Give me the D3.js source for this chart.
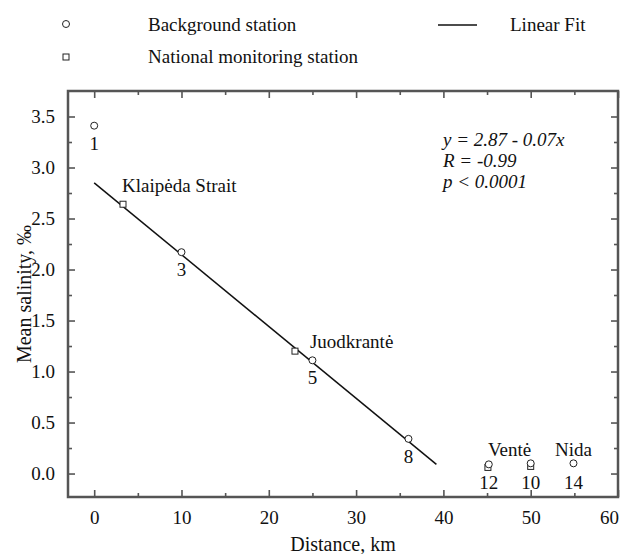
<!DOCTYPE html>
<html>
<head>
<meta charset="utf-8">
<script src="https://cdn.jsdelivr.net/npm/d3@7"></script>
<style>
  body { margin: 0; background: #fff; }
  svg text { font-family: "Liberation Serif", "Times New Roman", serif; fill: #111; }
</style>
</head>
<body>
<svg id="chart" width="625" height="554" font-family="Liberation Serif"></svg>
<script>
// background stations (circles)
const bgDist = [0, 10, 25, 36, 45.2, 50, 54.9];
const bgSal = [3.41, 2.17, 1.11, 0.34, 0.09, 0.10, 0.10];
const bgLabels = ["1", "3", "5", "8", "12", "10", "14"];

// national monitoring stations (squares)
const natDist = [3.3, 23, 45.1, 50];
const natSal = [2.64, 1.20, 0.06, 0.07];
const natLabels = ["Klaipėda Strait", "Juodkrantė", "Ventė", ""];

// linear fit endpoints
const fitDist = [0, 39.2];
const fitSal = [2.85, 0.09];

const xTicks = [0, 10, 20, 30, 40, 50, 60];
const yTicks = [0, 0.5, 1, 1.5, 2, 2.5, 3, 3.5];
const statsText = ["y = 2.87 - 0.07x", "R = -0.99", "p < 0.0001"];

const margin = { top: 91, right: 7, bottom: 57, left: 68 };
const width = 625, height = 554;
const svg = d3.select("#chart");

const x = d3.scaleLinear().domain([-3, 60]).range([margin.left, width - margin.right]);
const y = d3.scaleLinear().domain([-0.23, 3.75]).range([height - margin.bottom, margin.top]);

const frameColor = "#555";
const fs = 19;
const bottomY = height - margin.bottom;
const rightX = width - margin.right;

// plot frame
svg.append("rect")
  .attr("x", margin.left).attr("y", margin.top)
  .attr("width", rightX - margin.left).attr("height", bottomY - margin.top)
  .attr("fill", "none").attr("stroke", frameColor).attr("stroke-width", 2.5);

// axes, ticks inward on all sides
function styleAxis(g) {
  g.attr("font-family", "Liberation Serif");
  g.select(".domain").remove();
  g.selectAll(".tick line").attr("stroke", frameColor).attr("stroke-width", 1.6);
  g.selectAll("text").attr("font-size", fs).attr("fill", "#111");
}
const xMinor = [5, 15, 25, 35, 45, 55];
const yMinor = [0.25, 0.75, 1.25, 1.75, 2.25, 2.75, 3.25];

svg.append("g").attr("transform", `translate(0,${bottomY})`)
  .call(d3.axisBottom(x).tickValues(xTicks).tickSize(-7).tickPadding(14).tickFormat(d3.format("d")))
  .call(styleAxis)
  .call(g => g.selectAll("text").filter(d => d === 60).attr("dx", -9));
svg.append("g").attr("transform", `translate(0,${bottomY})`)
  .call(d3.axisBottom(x).tickValues(xMinor).tickSize(-4).tickFormat(""))
  .call(styleAxis);
svg.append("g").attr("transform", `translate(0,${margin.top})`)
  .call(d3.axisTop(x).tickValues(xTicks).tickSize(-7).tickFormat(""))
  .call(styleAxis);
svg.append("g").attr("transform", `translate(0,${margin.top})`)
  .call(d3.axisTop(x).tickValues(xMinor).tickSize(-4).tickFormat(""))
  .call(styleAxis);

svg.append("g").attr("transform", `translate(${margin.left},0)`)
  .call(d3.axisLeft(y).tickValues(yTicks).tickSize(-7).tickPadding(13).tickFormat(d3.format(".1f")))
  .call(styleAxis);
svg.append("g").attr("transform", `translate(${margin.left},0)`)
  .call(d3.axisLeft(y).tickValues(yMinor).tickSize(-4).tickFormat(""))
  .call(styleAxis);
svg.append("g").attr("transform", `translate(${rightX},0)`)
  .call(d3.axisRight(y).tickValues(yTicks).tickSize(-7).tickFormat(""))
  .call(styleAxis);
svg.append("g").attr("transform", `translate(${rightX},0)`)
  .call(d3.axisRight(y).tickValues(yMinor).tickSize(-4).tickFormat(""))
  .call(styleAxis);

// axis titles
svg.append("text")
  .attr("x", (margin.left + rightX) / 2).attr("y", 551)
  .attr("text-anchor", "middle").attr("font-size", 20)
  .text("Distance, km");
svg.append("text")
  .attr("transform", `translate(31,${(margin.top + bottomY) / 2}) rotate(-90)`)
  .attr("text-anchor", "middle").attr("font-size", 20)
  .text("Mean salinity, ‰");

// fit line
const fitData = fitDist.map((d, i) => [d, fitSal[i]]);
svg.append("path")
  .datum(fitData)
  .attr("d", d3.line().x(d => x(d[0])).y(d => y(d[1])))
  .attr("stroke", "#111").attr("stroke-width", 1.5).attr("fill", "none");

// squares
const sq = 6;
svg.selectAll("rect.nat").data(natDist).join("rect")
  .attr("class", "nat")
  .attr("x", d => x(d) - sq / 2)
  .attr("y", (d, i) => y(natSal[i]) - sq / 2)
  .attr("width", sq).attr("height", sq)
  .attr("fill", "#fff").attr("stroke", "#222").attr("stroke-width", 1);

// circles
svg.selectAll("circle.bg").data(bgDist).join("circle")
  .attr("class", "bg")
  .attr("cx", d => x(d))
  .attr("cy", (d, i) => y(bgSal[i]))
  .attr("r", 3.5)
  .attr("fill", "#fff").attr("stroke", "#222").attr("stroke-width", 1);

// station numbers below circles
const numY = [null, null, null, null, 489, 489, 489];
svg.selectAll("text.num").data(bgDist).join("text")
  .attr("class", "num")
  .attr("x", d => x(d))
  .attr("y", (d, i) => numY[i] !== null ? numY[i] : y(bgSal[i]) + 24)
  .attr("text-anchor", "middle").attr("font-size", fs)
  .text((d, i) => bgLabels[i]);

// station names
const nameDx = [-1, 15, 0];
const nameY = [192, 348, 456];
svg.selectAll("text.name").data(natDist.slice(0, 3)).join("text")
  .attr("class", "name")
  .attr("x", (d, i) => x(d) + nameDx[i])
  .attr("y", (d, i) => nameY[i])
  .attr("font-size", fs)
  .text((d, i) => natLabels[i]);
svg.append("text")
  .attr("x", x(bgDist[6])).attr("y", 456)
  .attr("text-anchor", "middle").attr("font-size", fs)
  .text("Nida");

// stats annotation
svg.append("g").selectAll("text").data(statsText).join("text")
  .attr("x", 443).attr("y", (d, i) => 146 + i * 21)
  .attr("font-size", fs).attr("font-style", "italic")
  .text(d => d);

// legend
const legend = svg.append("g");
legend.append("circle").attr("cx", 66).attr("cy", 24).attr("r", 3.5)
  .attr("fill", "#fff").attr("stroke", "#222");
legend.append("text").attr("x", 148).attr("y", 31).attr("font-size", fs).text("Background station");
legend.append("rect").attr("x", 63).attr("y", 54).attr("width", sq).attr("height", sq)
  .attr("fill", "#fff").attr("stroke", "#222");
legend.append("text").attr("x", 148).attr("y", 63).attr("font-size", fs).text("National monitoring station");
legend.append("line").attr("x1", 438).attr("x2", 477).attr("y1", 25).attr("y2", 25)
  .attr("stroke", "#111").attr("stroke-width", 1.5);
legend.append("text").attr("x", 510).attr("y", 31).attr("font-size", fs).text("Linear Fit");
</script>
</body>
</html>
